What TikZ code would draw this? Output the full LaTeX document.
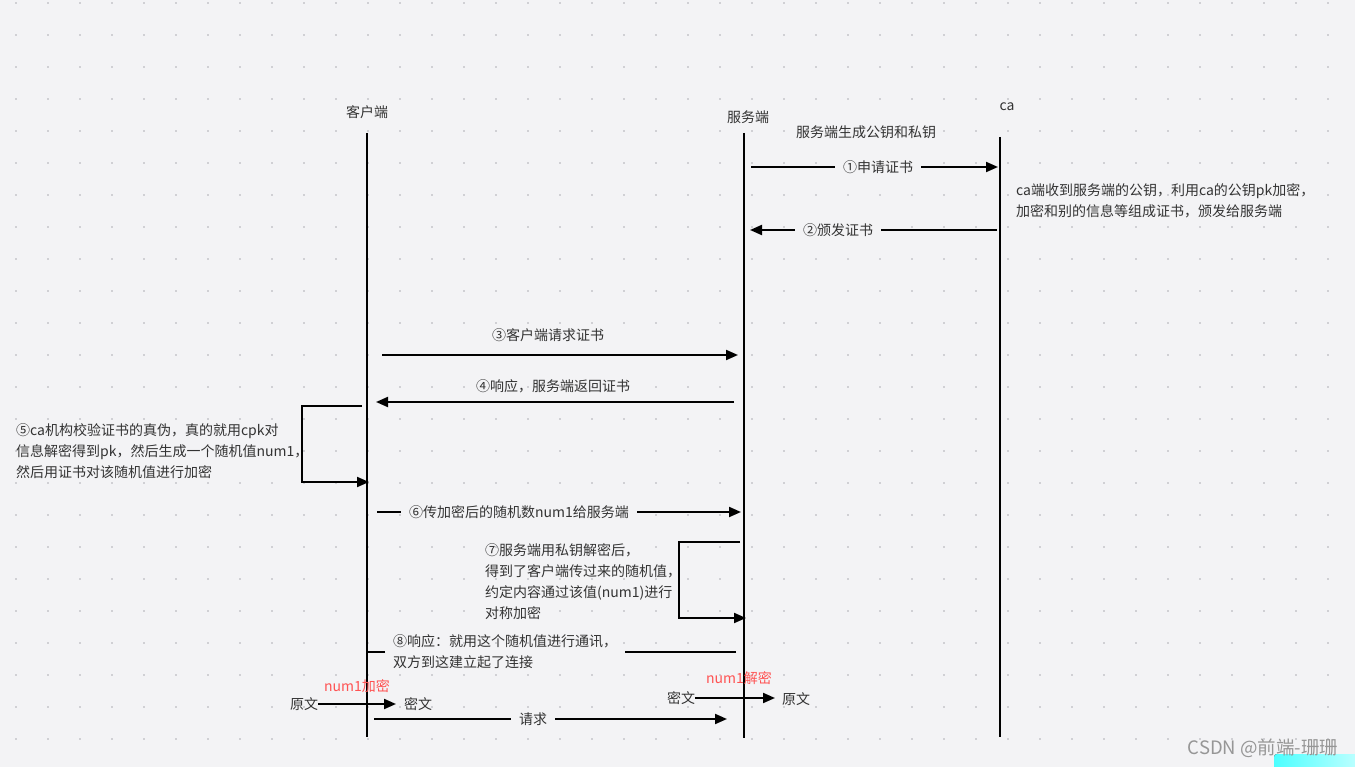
\documentclass[tikz,border=0pt]{standalone}
\usepackage{fontspec}
\setmainfont{Noto Sans CJK SC}
\usetikzlibrary{arrows.meta}
\definecolor{bg}{RGB}{243,243,245}
\definecolor{dotc}{RGB}{208,208,212}
\definecolor{txt}{RGB}{51,51,51}
\definecolor{redt}{RGB}{255,82,82}
\definecolor{wm}{RGB}{150,150,150}
\tikzset{
  life/.style={line width=2pt,black},
  msg/.style={line width=2pt,black,-{Triangle[length=12pt,width=10pt]}},
  plain/.style={line width=2pt,black},
  lbl/.style={font=\fontsize{14}{20}\selectfont,text=txt,inner sep=0pt},
  gap/.style={lbl,fill=bg,inner xsep=8pt,inner ysep=4pt},
  note/.style={font=\fontsize{14}{21}\selectfont,text=txt,inner sep=0pt,align=left,anchor=west},
  redl/.style={font=\fontsize{14}{20}\selectfont,text=redt,inner sep=0pt},
}
\begin{document}
\begin{tikzpicture}[x=1pt,y=-1pt]
\useasboundingbox (0,0) rectangle (1355,767);
\fill[bg] (0,0) rectangle (1355,767);
\foreach \i in {0,...,42}{\foreach \j in {0,...,23}{
  \fill[dotc] ({15+32*\i},{2+32*\j}) rectangle ++(2,2);}}
% watermark / corner
\fill[left color=cyan!70,right color=cyan!25,rounded corners=3pt] (1274,754) rectangle (1360,772);
\node[font=\fontsize{18.5}{20}\selectfont,text=wm,inner sep=0pt] (wmk) at (1263,748) {CSDN @前端-珊珊};
% headers
\node[lbl] (hc) at (367,112) {客户端};
\node[lbl] (hs) at (748,117) {服务端};
\node[lbl] (hca) at (1007,107) {ca};
\node[lbl] (gen) at (866,132) {服务端生成公钥和私钥};
% lifelines
\coordinate (ct) at (367,133); \coordinate (cb) at (367,737);
\coordinate (st) at (744,133); \coordinate (sb) at (744,738);
\coordinate (at) at (1000,137); \coordinate (ab) at (1000,737);
\draw[life] (ct) -- (cb);
\draw[life] (st) -- (sb);
\draw[life] (at) -- (ab);
% 1
\coordinate (m1a) at (751,167); \coordinate (m1b) at (998,167);
\draw[msg] (m1a) -- (m1b);
\node[gap] (l1) at (878,167) {①申请证书};
% 2
\coordinate (m2a) at (997,230); \coordinate (m2b) at (750,230);
\draw[msg] (m2a) -- (m2b);
\node[gap] (l2) at (838,230) {②颁发证书};
\node[note] (canote) at (1016,200.5) {ca端收到服务端的公钥，利用ca的公钥pk加密，\\加密和别的信息等组成证书，颁发给服务端};
% 3
\coordinate (m3a) at (382,355); \coordinate (m3b) at (738,355);
\draw[msg] (m3a) -- (m3b);
\node[lbl] (l3) at (548,335) {③客户端请求证书};
% 4
\coordinate (m4a) at (734,402); \coordinate (m4b) at (376,402);
\draw[msg] (m4a) -- (m4b);
\node[lbl] (l4) at (553,386) {④响应，服务端返回证书};
% 5 self loop
\coordinate (p5a) at (362,406); \coordinate (p5b) at (302,406);
\coordinate (p5c) at (302,482); \coordinate (p5d) at (369,482);
\draw[msg] (p5a) -- (p5b) -- (p5c) -- (p5d);
\node[note] (n5) at (16,451) {⑤ca机构校验证书的真伪，真的就用cpk对\\信息解密得到pk，然后生成一个随机值num1，\\然后用证书对该随机值进行加密};
% 6
\coordinate (m6a) at (377,512); \coordinate (m6b) at (741,512);
\draw[msg] (m6a) -- (m6b);
\node[gap] (l6) at (519,512) {⑥传加密后的随机数num1给服务端};
% 7 self loop
\coordinate (p7a) at (740,542); \coordinate (p7b) at (679,542);
\coordinate (p7c) at (679,618); \coordinate (p7d) at (746,618);
\draw[msg] (p7a) -- (p7b) -- (p7c) -- (p7d);
\node[note] (n7) at (485,582) {⑦服务端用私钥解密后，\\得到了客户端传过来的随机值，\\约定内容通过该值(num1)进行\\对称加密};
% 8
\coordinate (m8a) at (736,652); \coordinate (m8b) at (368,652);
\coordinate (m8c) at (625,652); \coordinate (m8d) at (385,652);
\draw[plain] (m8a) -- (m8c);
\draw[plain] (m8d) -- (m8b);
\node[note] (n8) at (393,651.5) {⑧响应：就用这个随机值进行通讯，\\双方到这建立起了连接};
% bottom left
\node[lbl] (yw1) at (304,704) {原文};
\node[lbl] (mw1) at (418,704) {密文};
\node[redl] (enc) at (357,686) {num1加密};
\coordinate (e1b) at (396,704);
\draw[msg] (yw1.east) -- (e1b);
% request
\coordinate (rqa) at (374,719); \coordinate (rqb) at (727,719);
\draw[msg] (rqa) -- (rqb);
\node[gap] (lrq) at (533,719) {请求};
% bottom right
\node[lbl] (mw2) at (681,698) {密文};
\node[lbl] (yw2) at (796,699) {原文};
\node[redl] (dec) at (739,678) {num1解密};
\coordinate (e2b) at (775,698);
\draw[msg] (mw2.east) -- (e2b);
\end{tikzpicture}
\end{document}
